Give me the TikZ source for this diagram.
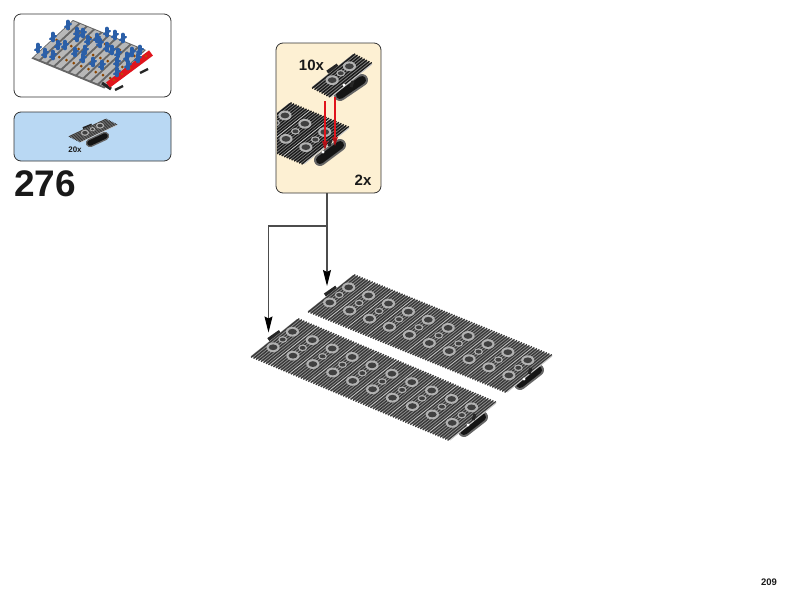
\documentclass[tikz,border=0pt]{standalone}
\usepackage{fontspec}
\setmainfont{Liberation Sans}
\usetikzlibrary{arrows.meta}

\definecolor{creme}{HTML}{FDF0D3}
\definecolor{azulclaro}{HTML}{B9D8F3}
\definecolor{azulpino}{HTML}{2B5FA8}
\definecolor{vermelho}{HTML}{E0141C}

\tikzset{
	caixa/.style={draw=black!80, line width=0.8pt, rounded corners=7pt, inner sep=0pt, outer sep=0pt},
	rotulo/.style={inner sep=0pt, font=\bfseries, text=black!90},
	fio/.style={line width=1.1pt, color=black!70},
	seta/.style={fio, -{Stealth[length=16pt, width=8pt, inset=2pt, color=black]}},
	setavermelha/.style={line width=1.2pt, color=vermelho, -{Stealth[length=9pt, width=5.5pt, inset=1pt, color=vermelho!80!black]}},
	chapa/.style={fill=black!42},
	nervura/.style={color=black!78}
}

% origem, elos, vetor u, vetor v, escala dos furos
\newcommand{\esteira}[5]{
	\begin{scope}[shift={(#1)}, x={(#3)}, y={(#4)}]
		\draw[line width=#5*3.6pt, color=black!85] (-0.1,0.42) -- (-0.05,0.65); %Aba
		\fill[chapa] (0,0) -- (#2,0) -- (#2,1) -- (0,1) -- cycle;
		\foreach \i in {1,...,#2}{
			\foreach \j in {0.06,0.185,...,1}
				\draw[nervura, line width=#5*1.35pt] (\i-1+\j,-0.025) -- (\i-1+\j,1.025); %Nervuras
			\draw[line width=#5*1pt, color=black!22] (\i,0) -- (\i,1); %Emenda
			\foreach \k/\r in {0.32/1, 0.53/0.68, 0.74/1}{
				\fill[black!30] (\i-0.63,\k) ellipse [x radius=#5*\r*6.6pt, y radius=#5*\r*4.9pt];
				\fill[black!75] (\i-0.63,\k) ellipse [x radius=#5*\r*4.4pt, y radius=#5*\r*2.9pt];
			}
		}
	\end{scope}
}

% extremos do rolete, escala
\newcommand{\rolete}[3]{
	\draw[line width=#3*12pt, line cap=round, color=black!60] (#1) -- (#2);
	\draw[line width=#3*8pt, line cap=round, color=black!92] (#1) -- (#2);
}

% folga branca e bloco escuro junto ao rolete
\newcommand{\marca}[2]{
	\fill[white] (#1) circle (1.7pt);
	\draw[line width=3pt, color=black!85] (#2) -- +(2,-6);
}

\begin{document}
\begin{tikzpicture}[x=1pt, y=-1pt]
	\useasboundingbox (0,0) rectangle (800,600);

	%Miniatura
	\node[caixa, fill=white, minimum width=157pt, minimum height=83pt] (miniatura) at (92.5,55.5) {};
	\begin{scope}[shift={(33,57)}, x={(7.3pt,-3pt)}, y={(40pt,37pt)}]
		\fill[black!60] (0,-0.04) -- (10,-0.04) -- (10,1) -- (0,1) -- cycle;
		\foreach \i in {0,...,9}{
			\fill[black!28] (\i+0.12,0) -- (\i+0.82,0) -- (\i+0.82,0.98) -- (\i+0.12,0.98) -- cycle;
			\foreach \k in {0.2,0.5,0.8}
				\fill[black!45!orange] (\i+0.5,\k) circle (1.5pt);
		}
	\end{scope}
	\foreach \a/\b in {115/90, 140/73}
		\draw[line width=2.4pt, color=black!85] (\a,\b) -- (\a+8,\b-4);
	\draw[line width=3pt, color=black!85] (102,83) -- (111,89);
	\draw[line width=6.5pt, color=vermelho] (108,85) -- (151,53); %Barra vermelha
	\foreach \a/\b in {114/80, 122/74, 130/68, 138/62, 146/56}
		\fill[orange!70!black] (\a,\b) circle (1.1pt);
	\foreach \a/\b in {68/25, 77/32, 83/33, 107/32, 115/35, 123/38, 53/37, 38/48, 53/55, 45/53, 58/45, 77/37, 97/38, 88/40, 100/43, 107/47, 112/50, 75/52, 85/50, 83/58, 93/62, 102/65, 117/62, 118/53, 127/57, 132/52, 140/50, 117/72, 128/65, 138/58, 65/45}{
		\draw[line width=3.6pt, line cap=round, color=azulpino] (\a,\b-3.5) -- (\a,\b+3.5); %Pinos azuis
		\draw[line width=2.2pt, line cap=round, color=azulpino] (\a-3,\b+2) -- (\a+3,\b-1);
	}

	%Lista de pecas
	\node[caixa, fill=azulclaro, minimum width=157pt, minimum height=49pt] (lista) at (92.5,136.5) {};
	\rolete{90,143}{105,136}{0.7}
	\esteira{69,136}{1}{12pt,-6pt}{36pt,17pt}{0.62}
	\node[rotulo, font=\bfseries\fontsize{8}{9}\selectfont] (qtdlista) at (75,150) {20x};

	\node[rotulo, font=\bfseries\fontsize{37}{40}\selectfont] (passo) at (45,184) {276};

	%Detalhe
	\node[caixa, fill=creme, minimum width=105pt, minimum height=150pt] (detalhe) at (328.5,118) {};
	\begin{scope}[chapa/.style={fill=black!50}, nervura/.style={color=black!90}]
		\begin{scope}
			\clip[rounded corners=6pt] (277,44) rectangle (380,192);
			\rolete{320,160}{340,145}{1}
			\esteira{244.3,139}{3}{19.9pt,-8.3pt}{45pt,36pt}{1}
			\marca{323,152}{329,146}
		\end{scope}
		\rolete{340,95}{362,80}{1}
		\esteira{312,87}{1}{19pt,-10pt}{41pt,33pt}{1}
		\marca{344,85}{351,87}
	\end{scope}
	\coordinate (pontaA) at (325,150);
	\coordinate (pontaB) at (335,146);
	\coordinate (origemA) at (325,101);
	\coordinate (origemB) at (335,97);
	\draw[setavermelha] (origemA) -- (pontaA);
	\draw[setavermelha] (origemB) -- (pontaB);
	\node[rotulo, font=\bfseries\fontsize{15}{16}\selectfont] (qtddez) at (311.5,65.5) {10x};
	\node[rotulo, font=\bfseries\fontsize{15}{16}\selectfont] (qtddois) at (363,180) {2x};

	%Esteiras
	\rolete{520,384}{538,370}{1}
	\esteira{308,311}{10}{19.9pt,-8.1pt}{45pt,36pt}{1}
	\marca{524,379}{529,374}
	\rolete{464,431}{482,417}{1}
	\esteira{251,356}{10}{19.9pt,-8.4pt}{46pt,37pt}{1}
	\marca{468,425}{473,420}

	%Setas
	\coordinate (pontatras) at (327,286);
	\coordinate (ramo) at (327,226);
	\coordinate (pontafrente) at (268.5,332.5);
	\draw[seta] (detalhe.south -| pontatras) -- (pontatras);
	\draw[seta] (ramo) -| (pontafrente);

	\node[rotulo, font=\bfseries\fontsize{9.5}{10}\selectfont] (pagina) at (769,582.5) {209};
\end{tikzpicture}
\end{document}
